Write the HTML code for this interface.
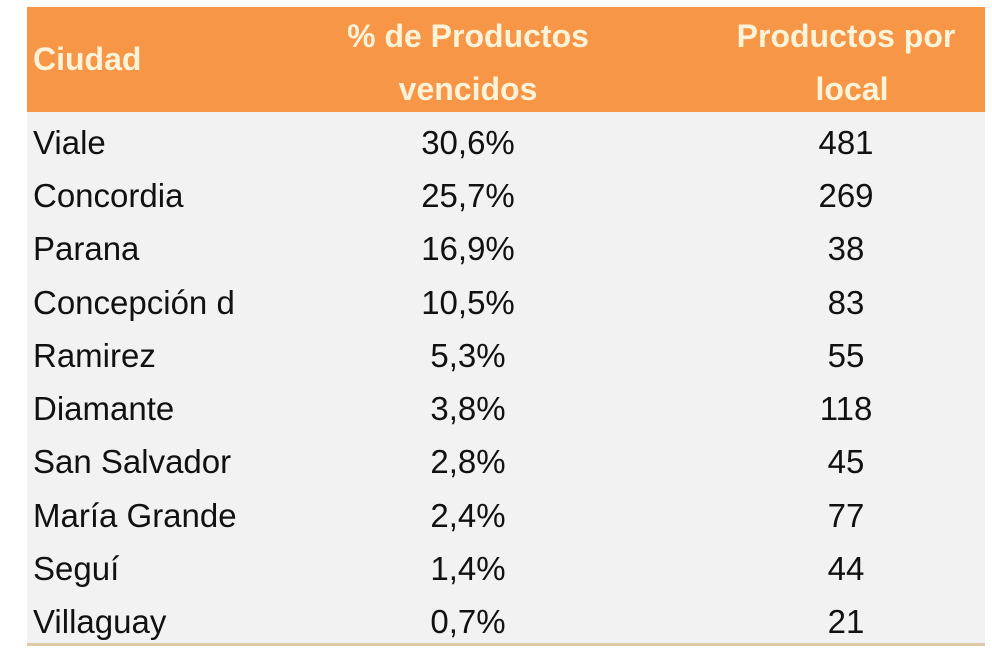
<!DOCTYPE html>
<html><head><meta charset="utf-8"><style>
body{margin:0;width:992px;height:653px;background:#fff;position:relative;overflow:hidden;font-family:"Liberation Sans",sans-serif;}
.hdr{position:absolute;left:27px;top:7px;width:958px;height:105px;background:#f79646;}
.body{position:absolute;left:27px;top:112px;width:958px;height:531px;background:#f2f2f2;border-bottom:3px solid #e0c9a6;}
.t{position:absolute;white-space:nowrap;line-height:1;}
.h{color:#fdf3d8;font-weight:bold;font-size:32px;}
.c{font-size:33px;color:#111;}
</style></head><body>
<div class="hdr"></div><div class="body"></div>
<div class="t h" style="left:33px;top:43px">Ciudad</div>
<div class="t h" style="left:318px;width:300px;text-align:center;top:20px">% de Productos</div>
<div class="t h" style="left:318px;width:300px;text-align:center;top:73px">vencidos</div>
<div class="t h" style="left:696px;width:300px;text-align:center;top:20px">Productos por</div>
<div class="t h" style="left:702px;width:300px;text-align:center;top:73px">local</div>
<div class="t c" style="left:33px;top:126px">Viale</div><div class="t c" style="left:368px;width:200px;text-align:center;top:126px">30,6%</div><div class="t c" style="left:746px;width:200px;text-align:center;top:126px">481</div>
<div class="t c" style="left:33px;top:179px">Concordia</div><div class="t c" style="left:368px;width:200px;text-align:center;top:179px">25,7%</div><div class="t c" style="left:746px;width:200px;text-align:center;top:179px">269</div>
<div class="t c" style="left:33px;top:232px">Parana</div><div class="t c" style="left:368px;width:200px;text-align:center;top:232px">16,9%</div><div class="t c" style="left:746px;width:200px;text-align:center;top:232px">38</div>
<div class="t c" style="left:33px;top:286px">Concepción d</div><div class="t c" style="left:368px;width:200px;text-align:center;top:286px">10,5%</div><div class="t c" style="left:746px;width:200px;text-align:center;top:286px">83</div>
<div class="t c" style="left:33px;top:339px">Ramirez</div><div class="t c" style="left:368px;width:200px;text-align:center;top:339px">5,3%</div><div class="t c" style="left:746px;width:200px;text-align:center;top:339px">55</div>
<div class="t c" style="left:33px;top:392px">Diamante</div><div class="t c" style="left:368px;width:200px;text-align:center;top:392px">3,8%</div><div class="t c" style="left:746px;width:200px;text-align:center;top:392px">118</div>
<div class="t c" style="left:33px;top:445px">San Salvador</div><div class="t c" style="left:368px;width:200px;text-align:center;top:445px">2,8%</div><div class="t c" style="left:746px;width:200px;text-align:center;top:445px">45</div>
<div class="t c" style="left:33px;top:499px">María Grande</div><div class="t c" style="left:368px;width:200px;text-align:center;top:499px">2,4%</div><div class="t c" style="left:746px;width:200px;text-align:center;top:499px">77</div>
<div class="t c" style="left:33px;top:552px">Seguí</div><div class="t c" style="left:368px;width:200px;text-align:center;top:552px">1,4%</div><div class="t c" style="left:746px;width:200px;text-align:center;top:552px">44</div>
<div class="t c" style="left:33px;top:605px">Villaguay</div><div class="t c" style="left:368px;width:200px;text-align:center;top:605px">0,7%</div><div class="t c" style="left:746px;width:200px;text-align:center;top:605px">21</div>
</body></html>
